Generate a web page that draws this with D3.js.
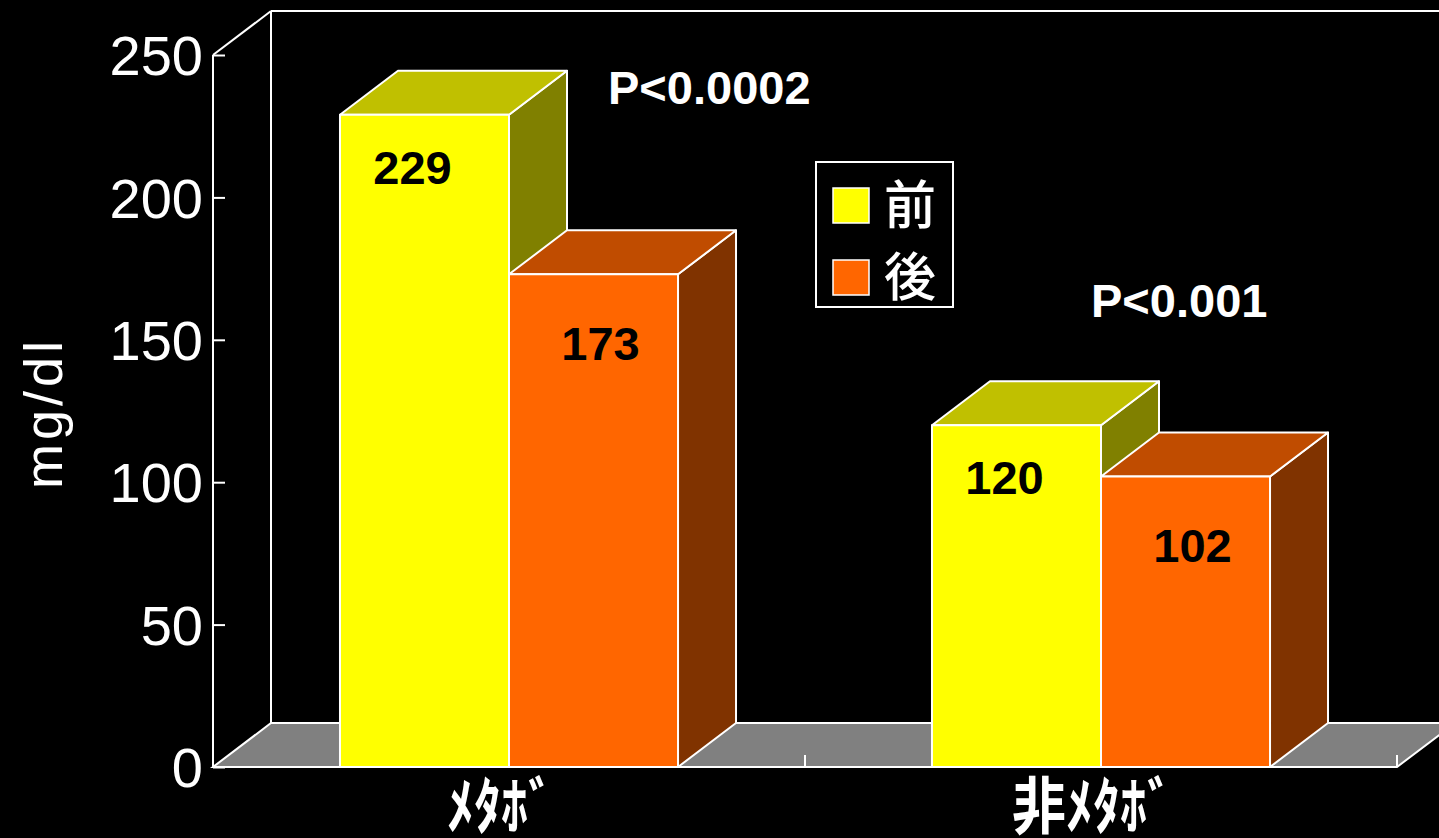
<!DOCTYPE html>
<html><head><meta charset="utf-8">
<script src="https://cdn.jsdelivr.net/npm/d3@7"></script>
<style>html,body{margin:0;padding:0;background:#000;overflow:hidden}</style>
</head><body>
<svg id="c" width="1439" height="838"></svg>
<script>
const categories = ["ﾒﾀﾎﾞ", "非ﾒﾀﾎﾞ"];
const seriesNames = ["前", "後"];
const beforeValues = [229, 120];
const afterValues = [173, 102];
const pLabels = ["P<0.0002", "P<0.001"];
const yTicks = [0, 50, 100, 150, 200, 250];
const yTitle = "mg/dl";

const colors = {
  "前": {front:"#FFFF00", top:"#C0C000", side:"#808000"},
  "後": {front:"#FF6600", top:"#C04C00", side:"#803300"}
};
const DX = 58, DY = 44;
const svg = d3.select("#c");
const W = 1439, H = 838;
svg.append("rect").attr("width", W).attr("height", H).attr("fill", "#000");

const x0 = d3.scaleBand().domain(categories).range([213, 1397]).padding(0);
const bw = x0.bandwidth();
const x1 = d3.scaleBand().domain(seriesNames).range([bw * 0.2145, bw * 0.7855]).padding(0);
const y = d3.scaleLinear().domain([0, 250]).range([767, 55]);

const wall = svg.append("g").attr("stroke", "#fff").attr("stroke-width", 2).attr("fill", "none");
// back wall
wall.append("line").attr("x1", 213 + DX).attr("x2", 213 + DX).attr("y1", y(250) - DY).attr("y2", y(0) - DY);
wall.append("line").attr("x1", 213 + DX).attr("x2", W + 10).attr("y1", y(250) - DY).attr("y2", y(250) - DY);
// floor
const fx0 = x0.range()[0], fx1 = x0.range()[1], fy = y(0);
svg.append("path")
  .attr("d", `M${fx0},${fy}L${fx1},${fy}L${fx1 + DX},${fy - DY}L${fx0 + DX},${fy - DY}Z`)
  .attr("fill", "#808080").attr("stroke", "#fff").attr("stroke-width", 2);
// category boundary ticks on floor
svg.append("g").selectAll("line").data(categories).join("line")
  .attr("x1", d => x0(d) + bw).attr("x2", d => x0(d) + bw)
  .attr("y1", fy).attr("y2", fy - 12)
  .attr("stroke", "#fff").attr("stroke-width", 2);

// y axis
const yAxis = d3.axisRight(y).tickValues(yTicks).tickSize(12).tickFormat("");
const ag = svg.append("g").attr("transform", `translate(213,0)`).call(yAxis);
ag.selectAll("path,line").attr("stroke", "#fff").attr("stroke-width", 2);
ag.select(".domain").attr("d", `M0,${y(250)}V${y(0)}`);
wall.append("line").attr("x1", 213).attr("y1", y(250)).attr("x2", 213 + DX).attr("y2", y(250) - DY);
svg.append("g").selectAll("text").data(yTicks).join("text")
  .attr("x", 203).attr("y", d => y(d)).attr("dy", "0.36em")
  .attr("text-anchor", "end").attr("fill", "#fff")
  .attr("font-family", "Liberation Sans, Arial, sans-serif").attr("font-size", 56)
  .text(d => d);

svg.append("text")
  .attr("transform", "translate(62,413) rotate(-90)")
  .attr("text-anchor", "middle").attr("fill", "#fff")
  .attr("font-family", "Liberation Sans, Arial, sans-serif").attr("font-size", 54)
  .attr("letter-spacing", 4)
  .text(yTitle);

// bars
const rows = [];
categories.forEach((c, i) => {
  rows.push({cat: c, s: "前", v: beforeValues[i]});
  rows.push({cat: c, s: "後", v: afterValues[i]});
});
const bars = svg.append("g");
rows.forEach(d => {
  const xl = x0(d.cat) + x1(d.s), xr = xl + x1.bandwidth();
  const yt = y(d.v), yb = y(0);
  const g = bars.append("g").attr("stroke", "#fff").attr("stroke-width", 2).attr("stroke-linejoin", "round");
  g.append("path").attr("d", `M${xr},${yt}L${xr + DX},${yt - DY}L${xr + DX},${yb - DY}L${xr},${yb}Z`).attr("fill", colors[d.s].side);
  g.append("path").attr("d", `M${xl},${yt}L${xl + DX},${yt - DY}L${xr + DX},${yt - DY}L${xr},${yt}Z`).attr("fill", colors[d.s].top);
  g.append("rect").attr("x", xl).attr("y", yt).attr("width", xr - xl).attr("height", yb - yt).attr("fill", colors[d.s].front);
});
// value labels
const labOff = {"前": {dx: -12, dy: 52}, "後": {dx: 7, dy: 69}};
svg.append("g").selectAll("text").data(rows).join("text")
  .attr("x", d => x0(d.cat) + x1(d.s) + x1.bandwidth() / 2 + labOff[d.s].dx)
  .attr("y", d => y(d.v) + labOff[d.s].dy).attr("dy", "0.36em")
  .attr("text-anchor", "middle").attr("fill", "#000").attr("font-weight", "bold")
  .attr("font-family", "Liberation Sans, Arial, sans-serif").attr("font-size", 47)
  .text(d => d.v);

// p labels
const pPos = [{x: 608, y: 104}, {x: 1091, y: 317}];
svg.append("g").selectAll("text").data(pLabels).join("text")
  .attr("x", (d, i) => pPos[i].x).attr("y", (d, i) => pPos[i].y)
  .attr("fill", "#fff").attr("font-weight", "bold")
  .attr("font-family", "Liberation Sans, Arial, sans-serif").attr("font-size", 47)
  .text(d => d);

// category labels
svg.append("g").selectAll("text").data(categories).join("text")
  .attr("transform", d => `translate(${x0(d) + bw / 2 - 8},829) scale(1,1.15)`)
  .attr("text-anchor", "middle").attr("fill", "#fff").attr("font-weight", "bold")
  .attr("font-family", "Noto Sans CJK JP, sans-serif").attr("font-size", 54)
  .text(d => d);

// legend
const lg = svg.append("g").attr("transform", "translate(816,162)");
lg.append("rect").attr("width", 137).attr("height", 145).attr("fill", "#000").attr("stroke", "#fff").attr("stroke-width", 2);
seriesNames.forEach((s, i) => {
  lg.append("rect").attr("x", 17).attr("y", 26 + i * 72).attr("width", 36).attr("height", 35)
    .attr("fill", colors[s].front).attr("stroke", "#fff").attr("stroke-width", 1.5);
  lg.append("text").attr("x", 68).attr("y", 43 + i * 72).attr("dy", "0.36em")
    .attr("fill", "#fff").attr("font-family", "Noto Sans CJK JP, sans-serif").attr("font-weight", 500)
    .attr("font-size", 52).text(s);
});
</script>
</body></html>
